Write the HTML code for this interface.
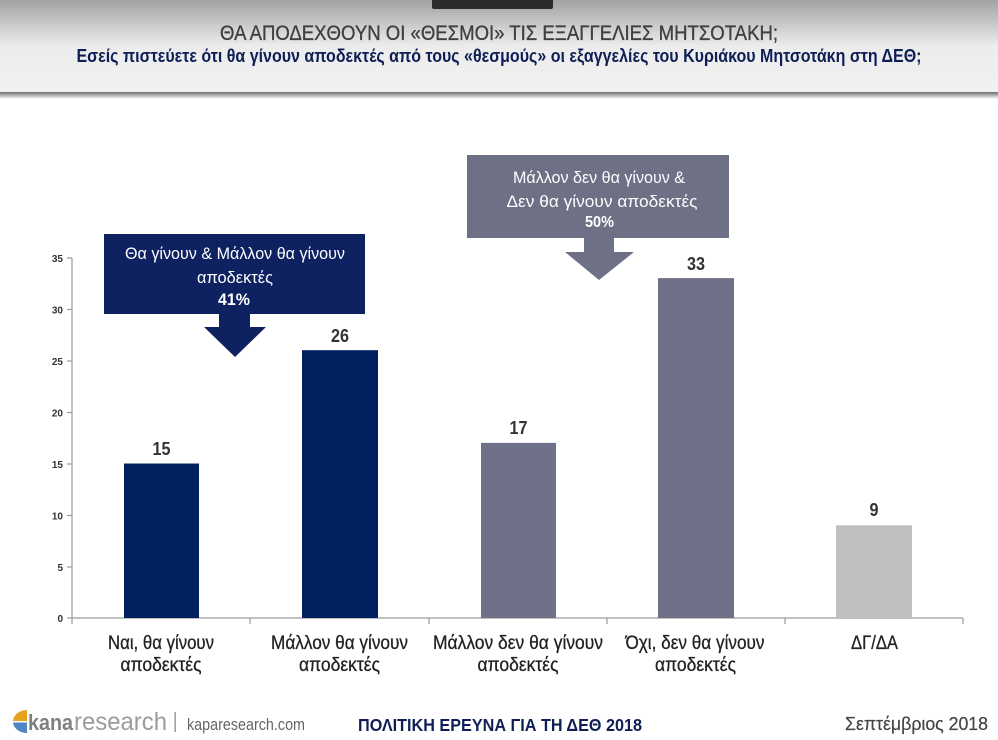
<!DOCTYPE html>
<html>
<head>
<meta charset="utf-8">
<style>
  html,body{margin:0;padding:0;background:#fff;}
  svg{display:block;}
  text{font-family:"Liberation Sans","DejaVu Sans",sans-serif;}
</style>
</head>
<body>
<svg width="998" height="740" viewBox="0 0 998 740" xmlns="http://www.w3.org/2000/svg">
  <defs>
    <linearGradient id="hdr" x1="0" y1="0" x2="0" y2="1">
      <stop offset="0" stop-color="#a2a2a2"/>
      <stop offset="0.5" stop-color="#ececec"/>
      <stop offset="1" stop-color="#f1f1f1"/>
    </linearGradient>
    <linearGradient id="shd" x1="0" y1="0" x2="0" y2="1">
      <stop offset="0" stop-color="#6e6e6e"/>
      <stop offset="0.35" stop-color="#a0a0a0"/>
      <stop offset="1" stop-color="#ffffff"/>
    </linearGradient>
  </defs>

  <!-- header -->
  <rect x="0" y="0" width="998" height="92" fill="url(#hdr)"/>
  <rect x="0" y="92" width="998" height="7" fill="url(#shd)"/>
  <rect x="432" y="-4" width="121" height="13" rx="2" fill="#2b2b2b"/>
  <text x="499" y="40" text-anchor="middle" font-size="21" fill="#404040" stroke="#404040" stroke-width="0.35" textLength="558" lengthAdjust="spacingAndGlyphs">ΘΑ ΑΠΟΔΕΧΘΟΥΝ ΟΙ «ΘΕΣΜΟΙ» ΤΙΣ ΕΞΑΓΓΕΛΙΕΣ ΜΗΤΣΟΤΑΚΗ;</text>
  <text x="499" y="62" text-anchor="middle" font-size="18" font-weight="bold" fill="#0f1f55" textLength="845" lengthAdjust="spacingAndGlyphs">Εσείς πιστεύετε ότι θα γίνουν αποδεκτές από τους «θεσμούς» οι εξαγγελίες του Κυριάκου Μητσοτάκη στη ΔΕΘ;</text>

  <!-- axes -->
  <g stroke="#9a9a9a" stroke-width="1.2" fill="none">
    <line x1="72" y1="258" x2="72" y2="618"/>
    <line x1="72" y1="618" x2="963" y2="618"/>
    <line x1="67" y1="258" x2="72" y2="258"/>
    <line x1="67" y1="309.5" x2="72" y2="309.5"/>
    <line x1="67" y1="361" x2="72" y2="361"/>
    <line x1="67" y1="412.5" x2="72" y2="412.5"/>
    <line x1="67" y1="464" x2="72" y2="464"/>
    <line x1="67" y1="515.5" x2="72" y2="515.5"/>
    <line x1="67" y1="567" x2="72" y2="567"/>
    <line x1="67" y1="618" x2="72" y2="618"/>
    <line x1="72" y1="618" x2="72" y2="624"/>
    <line x1="250" y1="618" x2="250" y2="624"/>
    <line x1="429" y1="618" x2="429" y2="624"/>
    <line x1="607" y1="618" x2="607" y2="624"/>
    <line x1="785" y1="618" x2="785" y2="624"/>
    <line x1="963" y1="618" x2="963" y2="624"/>
  </g>
  <g font-size="10" font-weight="bold" fill="#333" text-anchor="end">
    <text x="63" y="262">35</text>
    <text x="63" y="313.5">30</text>
    <text x="63" y="365">25</text>
    <text x="63" y="416.5">20</text>
    <text x="63" y="468">15</text>
    <text x="63" y="519.5">10</text>
    <text x="63" y="571">5</text>
    <text x="63" y="622">0</text>
  </g>

  <!-- bars -->
  <rect x="124" y="463.5" width="75" height="154.5" fill="#00205f"/>
  <rect x="302" y="350.2" width="76" height="267.8" fill="#00205f"/>
  <rect x="481" y="442.9" width="75" height="175.1" fill="#6f7189"/>
  <rect x="658" y="278.1" width="76" height="339.9" fill="#6f7189"/>
  <rect x="836" y="525.3" width="76" height="92.7" fill="#bfbfbf"/>

  <!-- value labels -->
  <g font-size="18" font-weight="bold" fill="#333" text-anchor="middle">
    <text x="161.5" y="455" textLength="18" lengthAdjust="spacingAndGlyphs">15</text>
    <text x="340" y="342" textLength="18" lengthAdjust="spacingAndGlyphs">26</text>
    <text x="518.5" y="434" textLength="18" lengthAdjust="spacingAndGlyphs">17</text>
    <text x="696" y="270" textLength="18" lengthAdjust="spacingAndGlyphs">33</text>
    <text x="874" y="516" textLength="9" lengthAdjust="spacingAndGlyphs">9</text>
  </g>

  <!-- category labels -->
  <g font-size="19.5" fill="#222" stroke="#222" stroke-width="0.3" text-anchor="middle">
    <text x="161" y="649" textLength="106" lengthAdjust="spacingAndGlyphs">Ναι, θα γίνουν</text>
    <text x="161" y="671" textLength="81" lengthAdjust="spacingAndGlyphs">αποδεκτές</text>
    <text x="339.5" y="649" textLength="137" lengthAdjust="spacingAndGlyphs">Μάλλον θα γίνουν</text>
    <text x="339.5" y="671" textLength="81" lengthAdjust="spacingAndGlyphs">αποδεκτές</text>
    <text x="518" y="649" textLength="170" lengthAdjust="spacingAndGlyphs">Μάλλον δεν θα γίνουν</text>
    <text x="518" y="671" textLength="81" lengthAdjust="spacingAndGlyphs">αποδεκτές</text>
    <text x="695" y="649" textLength="139" lengthAdjust="spacingAndGlyphs">Όχι, δεν θα γίνουν</text>
    <text x="695.5" y="671" textLength="81" lengthAdjust="spacingAndGlyphs">αποδεκτές</text>
    <text x="874.5" y="649" textLength="47" lengthAdjust="spacingAndGlyphs">ΔΓ/ΔΑ</text>
  </g>

  <!-- navy callout -->
  <rect x="104" y="234" width="261" height="80" fill="#0e2160"/>
  <polygon points="219,313 250,313 250,327 266,327 235,357 204,327 219,327" fill="#0e2160"/>
  <g fill="#ffffff" text-anchor="middle">
    <text x="235" y="259" font-size="16.5" textLength="220" lengthAdjust="spacingAndGlyphs">Θα γίνουν &amp; Μάλλον θα γίνουν</text>
    <text x="235" y="283" font-size="16.5" textLength="76" lengthAdjust="spacingAndGlyphs">αποδεκτές</text>
    <text x="234" y="305" font-size="16.5" font-weight="bold" textLength="32" lengthAdjust="spacingAndGlyphs">41%</text>
  </g>

  <!-- gray callout -->
  <rect x="467" y="155" width="262" height="83" fill="#6e7086"/>
  <polygon points="584,237 614,237 614,252 634,252 599,280 565,252 584,252" fill="#6e7086"/>
  <g fill="#ffffff" text-anchor="middle">
    <text x="599" y="183" font-size="16.5" textLength="172" lengthAdjust="spacingAndGlyphs">Μάλλον δεν θα γίνουν &amp;</text>
    <text x="602" y="207" font-size="16.5" textLength="191" lengthAdjust="spacingAndGlyphs">Δεν θα γίνουν αποδεκτές</text>
    <text x="599.5" y="227" font-size="15.5" font-weight="bold" textLength="29" lengthAdjust="spacingAndGlyphs">50%</text>
  </g>

  <!-- footer -->
  <path d="M27,721 L27,710 A14,11.5 0 0 0 13,721 Z" fill="#e8a31c"/>
  <path d="M27,722.5 L13,722.5 A14,11.5 0 0 0 27,733 Z" fill="#4f87c4"/>
  <text x="28" y="730" font-size="22" font-weight="bold" fill="#7f7f7f" textLength="45" lengthAdjust="spacingAndGlyphs">kana</text>
  <text x="74" y="730" font-size="25" fill="#9b9b9b" textLength="93" lengthAdjust="spacingAndGlyphs">research</text>
  <rect x="174.5" y="712" width="1.3" height="20" fill="#8a8a8a"/>
  <text x="187" y="730" font-size="16.5" fill="#666" textLength="118" lengthAdjust="spacingAndGlyphs">kaparesearch.com</text>
  <text x="358" y="731" font-size="17.5" font-weight="bold" fill="#0f1f55" textLength="284" lengthAdjust="spacingAndGlyphs">ΠΟΛΙΤΙΚΗ ΕΡΕΥΝΑ ΓΙΑ ΤΗ ΔΕΘ 2018</text>
  <text x="845" y="730" font-size="18" fill="#444" stroke="#444" stroke-width="0.2" textLength="143" lengthAdjust="spacingAndGlyphs">Σεπτέμβριος 2018</text>
</svg>
</body>
</html>
